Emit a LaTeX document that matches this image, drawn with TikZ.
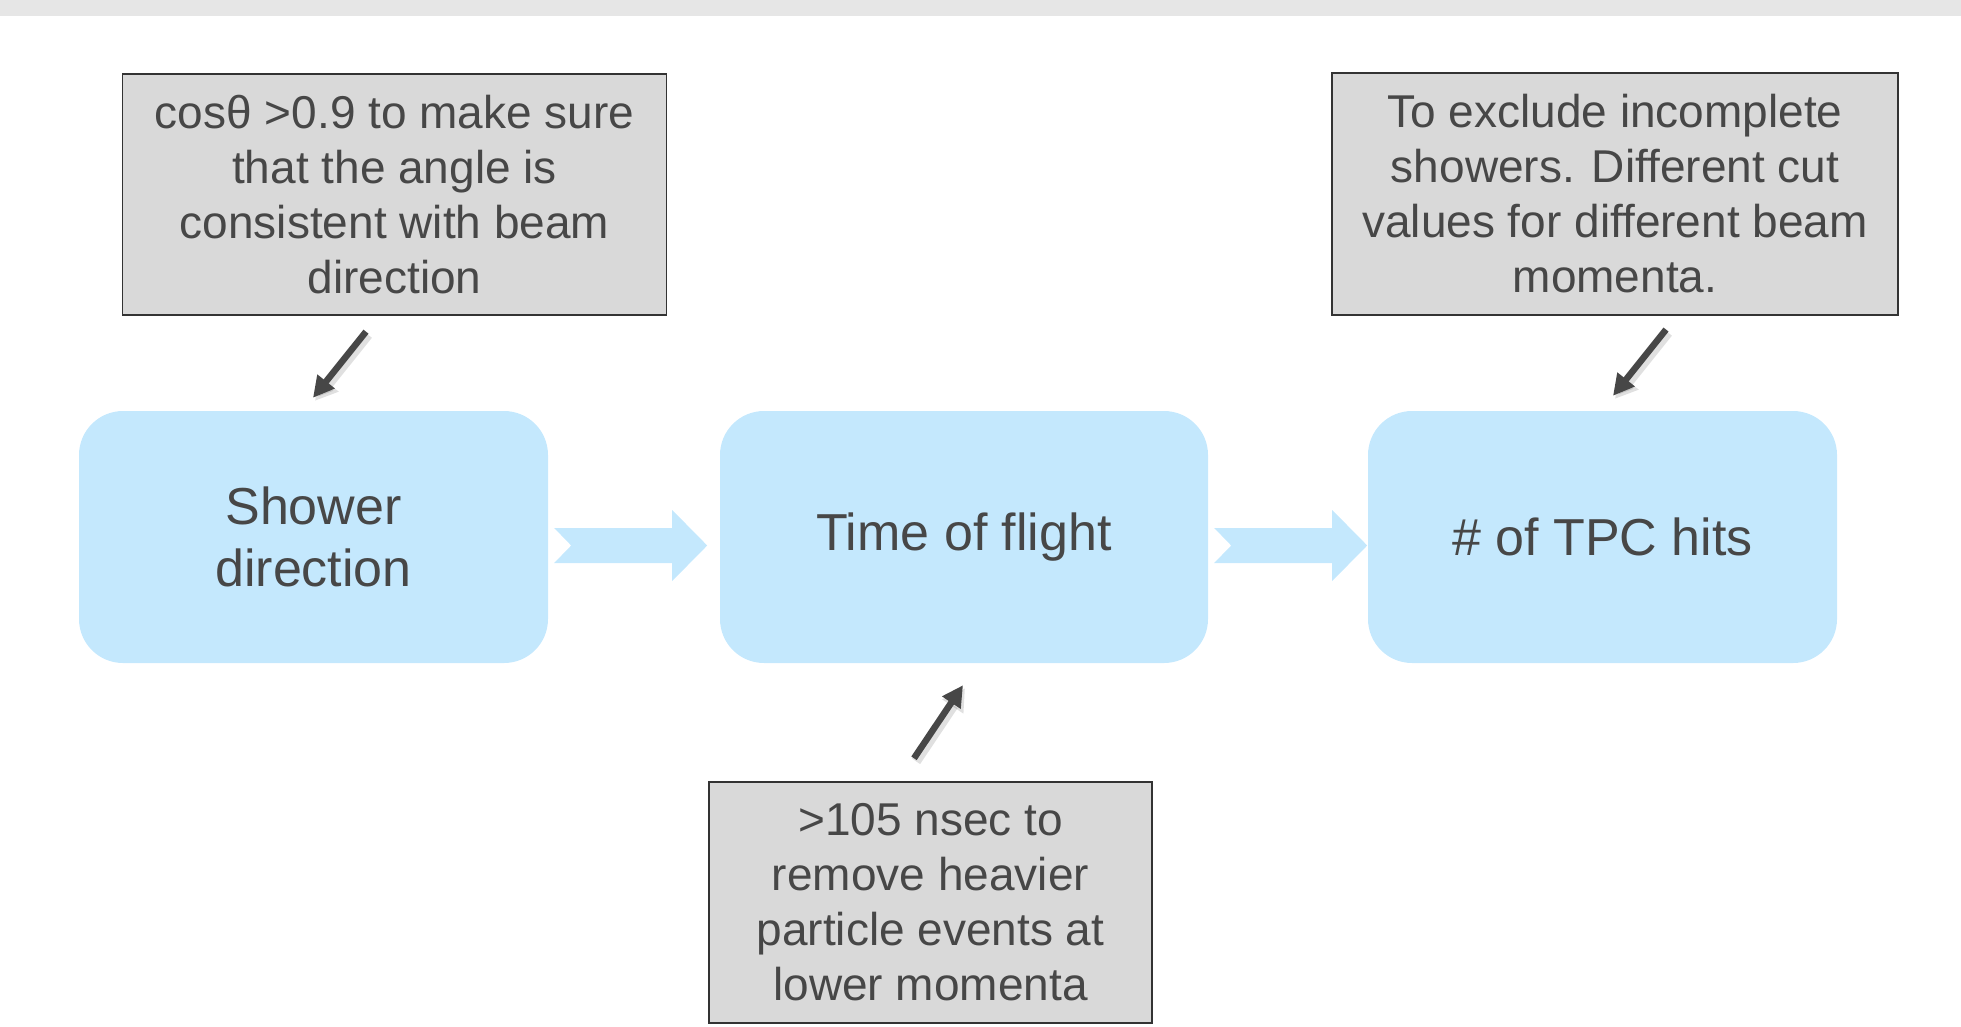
\documentclass[tikz,border=0pt]{standalone}
\usepackage{fontspec}
\setmainfont{Liberation Sans}
\usetikzlibrary{arrows.meta,calc}
\definecolor{boxblue}{HTML}{C4E8FD}
\definecolor{notegray}{HTML}{D9D9D9}
\definecolor{ink}{HTML}{474747}
\definecolor{topbar}{HTML}{E6E6E6}

% wide light-blue block arrow leaving the east side of a stage
\newcommand\flowarrow[1]{%
  \fill[boxblue]
    ($(#1.east)+(6,-9)$) -- ($(#1.east)+(124,-9)$) -- ($(#1.east)+(124,-27)$)
    -- ($(#1.east)+(159,8.5)$)
    -- ($(#1.east)+(124,44)$) -- ($(#1.east)+(124,26)$) -- ($(#1.east)+(6,26)$)
    -- ($(#1.east)+(23,8.5)$) -- cycle;}

\begin{document}
\begin{tikzpicture}[x=1pt,y=-1pt,
  stage/.style={fill=boxblue, rounded corners=44pt, minimum height=252pt,
    inner sep=0pt, text=ink, font=\fontsize{52}{62}\selectfont, align=center},
  note/.style={fill=notegray, draw=black!80, line width=1.5pt, inner sep=0pt,
    text=ink, font=\fontsize{46}{55}\selectfont, align=center},
  pointer/.style={draw=ink, line width=6.5pt, -{Triangle[length=21pt,width=21pt]}},
  pointershade/.style={draw=black, opacity=0.12, line width=10pt,
    -{Triangle[length=22pt,width=24pt]}}]

\useasboundingbox (0,0) rectangle (1961,1026);
\fill[topbar] (0,0) rectangle (1961,16);

% processing stages
\node[stage, minimum width=469pt] (sd)  at (313.5,537) {Shower\\direction};
\node[stage, minimum width=488pt] (tof) at (964,537)   {Time of flight};
\node[stage, minimum width=469pt] (tpc) at (1602.5,537) {\# of TPC hits};

% explanatory notes
\node[note, minimum width=544pt, minimum height=241pt] (na) at (394.6,194.4)
  {cosθ >0.9 to make sure\\that the angle is\\consistent with beam\\direction};
\node[note, minimum width=566pt, minimum height=242pt] (nb) at (1615,193.8)
  {To exclude incomplete\\showers. Different cut\\values for different beam\\momenta.};
\node[note, minimum width=443pt, minimum height=241pt] (nc) at (930.5,902.5)
  {>105 nsec to\\remove heavier\\particle events at\\lower momenta};

% flow between stages
\flowarrow{sd}
\flowarrow{tof}

% pointers from notes to stages
\coordinate (a0) at ($(na.south)+(-28.6,16)$);
\coordinate (a1) at ($(sd.north)+(-0.5,-13)$);
\coordinate (b0) at ($(nb.south)+(51,14)$);
\coordinate (b1) at ($(tpc.north)+(10.5,-15)$);
\coordinate (c0) at ($(nc.north)+(-16.5,-23)$);
\coordinate (c1) at ($(tof.south)+(-1,22)$);

\foreach \s/\e in {a0/a1,b0/b1,c0/c1}{
  \draw[pointershade] ($(\s)+(2,3)$) -- ($(\e)+(2,3)$);
  \draw[pointer] (\s) -- (\e);
}
\end{tikzpicture}
\end{document}
